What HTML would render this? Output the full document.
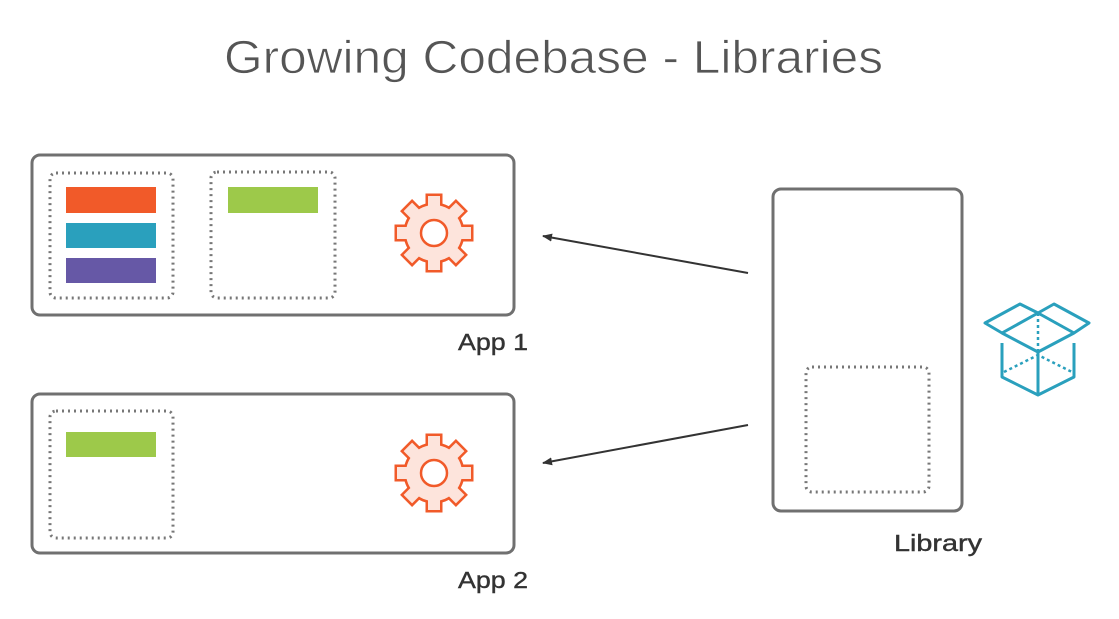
<!DOCTYPE html>
<html><head><meta charset="utf-8"><style>
html,body{margin:0;padding:0;background:#fff;}
body{width:1119px;height:614px;overflow:hidden;font-family:"Liberation Sans",sans-serif;}
</style></head><body>
<svg width="1119" height="614" viewBox="0 0 1119 614" xmlns="http://www.w3.org/2000/svg">
<defs>
<g id="teeth">
  <rect x="-6" y="-37" width="12" height="74"/>
  <rect x="-6" y="-37" width="12" height="74" transform="rotate(45)"/>
  <rect x="-6" y="-37" width="12" height="74" transform="rotate(90)"/>
  <rect x="-6" y="-37" width="12" height="74" transform="rotate(135)"/>
  <circle r="28"/>
</g>
<g id="gear">
  <use href="#teeth" fill="#f15a29" stroke="#f15a29" stroke-width="5"/>
  <use href="#teeth" fill="#fde4dc"/>
  <circle r="13" fill="#fff" stroke="#f15a29" stroke-width="2.5"/>
</g>
<marker id="ah" markerWidth="10" markerHeight="8" refX="9" refY="4" orient="auto" markerUnits="userSpaceOnUse">
  <path d="M0,0 L10,4 L0,8 z" fill="#333"/>
</marker>
</defs>
<text x="224" y="73" textLength="659" lengthAdjust="spacingAndGlyphs" font-size="46" fill="#555" stroke="#fff" stroke-width="0.8">Growing Codebase - Libraries</text>

<rect x="32" y="155" width="482" height="160" rx="8" fill="none" stroke="#707070" stroke-width="3"/>
<rect x="32" y="394" width="482" height="159" rx="8" fill="none" stroke="#707070" stroke-width="3"/>
<rect x="773" y="189" width="189" height="322" rx="8" fill="none" stroke="#707070" stroke-width="3"/>

<g fill="none" stroke="#777" stroke-width="3" stroke-dasharray="2 4">
<rect x="50" y="173" width="123" height="125" rx="6"/>
<rect x="211" y="172" width="124" height="126" rx="6"/>
<rect x="50" y="411" width="123" height="127" rx="6"/>
<rect x="806" y="367" width="123" height="125" rx="6"/>
</g>

<rect x="66" y="187" width="90" height="26" fill="#f15a29"/>
<rect x="66" y="223" width="90" height="25" fill="#2aa0bd"/>
<rect x="66" y="258" width="90" height="25" fill="#6658a6"/>
<rect x="228" y="187" width="90" height="26" fill="#9dc94a"/>
<rect x="66" y="432" width="90" height="25" fill="#9dc94a"/>

<use href="#gear" transform="translate(434,233)"/>
<use href="#gear" transform="translate(434,473)"/>

<line x1="748" y1="273" x2="543" y2="236" stroke="#333" stroke-width="2" marker-end="url(#ah)"/>
<line x1="748" y1="425" x2="543" y2="463" stroke="#333" stroke-width="2" marker-end="url(#ah)"/>

<text x="458" y="350" font-size="23" textLength="70" lengthAdjust="spacingAndGlyphs" fill="#333" stroke="#333" stroke-width="0.4">App 1</text>
<text x="458" y="588" font-size="23" textLength="70" lengthAdjust="spacingAndGlyphs" fill="#333" stroke="#333" stroke-width="0.4">App 2</text>
<text x="894" y="551" font-size="23" textLength="88" lengthAdjust="spacingAndGlyphs" fill="#333" stroke="#333" stroke-width="0.4">Library</text>

<g fill="none" stroke="#2aa0bd" stroke-width="3" stroke-linejoin="round">
  <path d="M1002,343 L1002,377 L1038,395 L1074,377 L1074,343"/>
  <path d="M1038,352 L1038,395"/>
  <path d="M1002,333 L1038,352 L1074,333"/>
  <path d="M985,323 L1020,304 L1038,313 L1002,333 Z"/>
  <path d="M1038,313 L1054,304 L1089,323 L1074,333 Z"/>
  <path d="M1002,333 L1038,313 L1074,333" stroke-dasharray="3 3" stroke-width="2.5"/>
  <path d="M1038,313 L1038,352" stroke-dasharray="3 3" stroke-width="2.5"/>
  <path d="M1004,372 L1038,355 L1072,372" stroke-dasharray="3 3" stroke-width="2.5"/>
</g>
</svg>
</body></html>
